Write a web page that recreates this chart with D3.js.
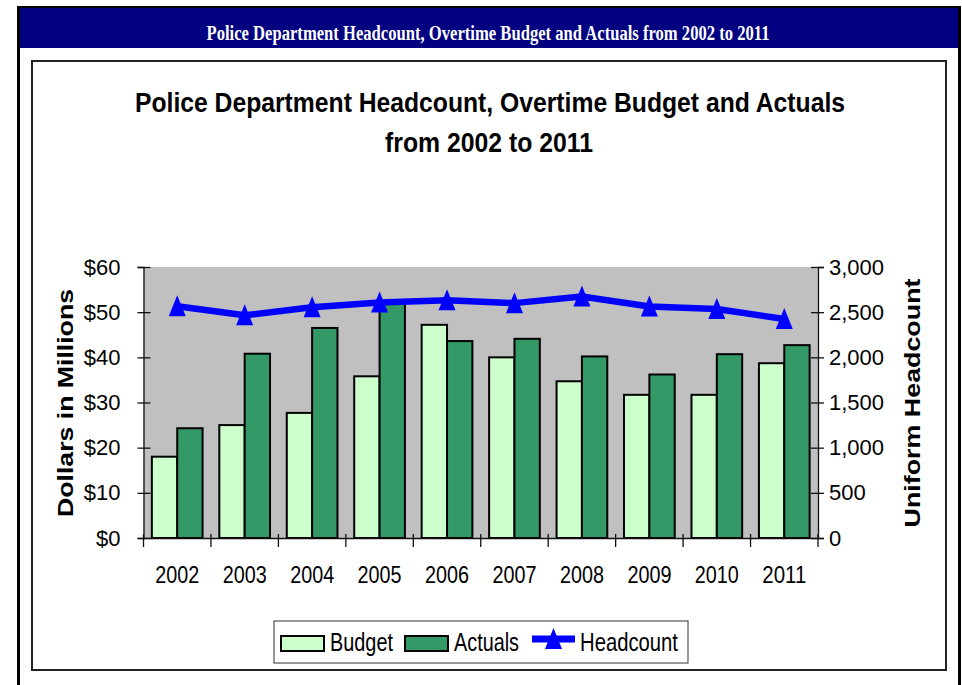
<!DOCTYPE html>
<html>
<head>
<meta charset="utf-8">
<script src="https://cdn.jsdelivr.net/npm/d3@7"></script>
<style>
  html, body { margin: 0; padding: 0; background: #fff; }
  svg { display: block; }
  text { font-family: "Liberation Sans", Arial, sans-serif; }
</style>
</head>
<body>
<svg id="chart" width="962" height="685"></svg>
<script>
// Overtime budget vs. actuals (millions of dollars) and uniform headcount
const years      = ["2002", "2003", "2004", "2005", "2006", "2007", "2008", "2009", "2010", "2011"];
const budget     = [18.0, 25.0, 27.7, 35.8, 47.2, 40.0, 34.7, 31.7, 31.7, 38.7];
const actuals    = [24.3, 40.8, 46.5, 52.0, 43.6, 44.1, 40.2, 36.2, 40.7, 42.7];
const headcount  = [2565, 2465, 2554, 2606, 2631, 2600, 2673, 2563, 2535, 2424];
const dollarTicks    = [0, 10, 20, 30, 40, 50, 60];
const headcountTicks = [0, 500, 1000, 1500, 2000, 2500, 3000];
const seriesNames = ["Budget", "Actuals"];

const svg = d3.select("#chart");

// ---- page frame and banner ----
svg.append("rect").attr("x", 17).attr("y", 6).attr("width", 944).attr("height", 2).attr("fill", "#000");
svg.append("rect").attr("x", 20).attr("y", 8).attr("width", 938).attr("height", 40).attr("fill", "#000080");
svg.append("rect").attr("x", 17).attr("y", 6).attr("width", 3).attr("height", 680).attr("fill", "#000");
svg.append("rect").attr("x", 958).attr("y", 6).attr("width", 3).attr("height", 680).attr("fill", "#000");
svg.append("text")
  .attr("x", 488).attr("y", 40)
  .attr("text-anchor", "middle")
  .attr("fill", "#fff")
  .style("font-family", "'Liberation Serif', 'Times New Roman', serif")
  .style("font-weight", "bold")
  .style("font-size", "20px")
  .attr("textLength", 563).attr("lengthAdjust", "spacingAndGlyphs")
  .text("Police Department Headcount, Overtime Budget and Actuals from 2002 to 2011");

// chart box
svg.append("rect")
  .attr("x", 32).attr("y", 61).attr("width", 914).attr("height", 609)
  .attr("fill", "#fff").attr("stroke", "#222").attr("stroke-width", 2);

// ---- title ----
const title = svg.append("g").style("font-weight", "bold").style("font-size", "27px").attr("fill", "#000");
title.append("text").attr("x", 490).attr("y", 112).attr("text-anchor", "middle")
  .attr("textLength", 710).attr("lengthAdjust", "spacingAndGlyphs")
  .text("Police Department Headcount, Overtime Budget and Actuals");
title.append("text").attr("x", 489).attr("y", 152).attr("text-anchor", "middle")
  .attr("textLength", 208).attr("lengthAdjust", "spacingAndGlyphs")
  .text("from 2002 to 2011");

// ---- plot area ----
const plot = { left: 143.5, right: 818, top: 267, bottom: 538 };

const x = d3.scaleBand().domain(years).range([plot.left, plot.right]).padding(0);
const xSub = d3.scaleBand().domain(seriesNames).range([0, x.bandwidth()])
  .paddingInner(0).paddingOuter(0.33);
const yL = d3.scaleLinear().domain([0, 60]).range([plot.bottom, plot.top]);
const yR = d3.scaleLinear().domain([0, 3000]).range([plot.bottom, plot.top]);

svg.append("rect")
  .attr("x", plot.left).attr("y", plot.top)
  .attr("width", plot.right - plot.left).attr("height", plot.bottom - plot.top)
  .attr("fill", "#c0c0c0");

// bars
const colors = { Budget: "#ccffcc", Actuals: "#339966" };
const rows = years.map((yr, i) => ({ year: yr, Budget: budget[i], Actuals: actuals[i] }));
const groups = svg.append("g").selectAll("g").data(rows).join("g")
  .attr("transform", d => `translate(${x(d.year)},0)`);
groups.selectAll("rect")
  .data(d => seriesNames.map(k => ({ key: k, value: d[k] })))
  .join("rect")
  .attr("x", d => xSub(d.key))
  .attr("y", d => yL(d.value))
  .attr("width", xSub.bandwidth())
  .attr("height", d => yL(0) - yL(d.value))
  .attr("fill", d => colors[d.key])
  .attr("stroke", "#000")
  .attr("stroke-width", 2);

// axes
const axisColor = "#111";
const leftAxis = svg.append("g").attr("transform", `translate(${plot.left},0)`)
  .call(d3.axisLeft(yL).tickValues(dollarTicks).tickSize(6).tickPadding(17).tickFormat(d => "$" + d));
leftAxis.selectAll(".tick line").attr("x1", 7);
const rightAxis = svg.append("g").attr("transform", `translate(${plot.right},0)`)
  .call(d3.axisRight(yR).tickValues(headcountTicks).tickSize(6).tickPadding(5).tickFormat(d3.format(",")));
rightAxis.selectAll(".tick line").attr("x1", -7);
const bottomAxis = svg.append("g").attr("transform", `translate(0,${plot.bottom})`)
  .call(d3.axisBottom(x).tickSize(0).tickPadding(28));
bottomAxis.selectAll(".tick text").attr("textLength", 44).attr("lengthAdjust", "spacingAndGlyphs");

[leftAxis, rightAxis, bottomAxis].forEach(a => {
  a.select(".domain").attr("stroke", axisColor).attr("stroke-width", 1.3);
  a.selectAll(".tick line").attr("stroke", axisColor).attr("stroke-width", 1.3);
  a.selectAll(".tick text").attr("fill", "#000").style("font-size", "22px")
    .style("font-family", "'Liberation Sans', Arial, sans-serif");
});
bottomAxis.selectAll(".tick text").style("font-size", "24px");

// category boundary ticks on the bottom axis
svg.append("g").selectAll("line")
  .data(d3.range(years.length + 1))
  .join("line")
  .attr("x1", i => plot.left + i * x.step())
  .attr("x2", i => plot.left + i * x.step())
  .attr("y1", plot.bottom - 4).attr("y2", plot.bottom + 9)
  .attr("stroke", axisColor).attr("stroke-width", 1.3);

// headcount line with triangle markers
const lineColor = "#0000ff";
const cx = i => x(years[i]) + x.bandwidth() / 2;
svg.append("path")
  .datum(headcount)
  .attr("fill", "none")
  .attr("stroke", lineColor)
  .attr("stroke-width", 6.5)
  .attr("stroke-linejoin", "round")
  .attr("d", d3.line().x((d, i) => cx(i)).y(d => yR(d)));
const tri = (px, py) => `M${px},${py - 11}L${px + 8.5},${py + 10}L${px - 8.5},${py + 10}Z`;
svg.append("g").selectAll("path")
  .data(headcount)
  .join("path")
  .attr("d", (d, i) => tri(cx(i), yR(d)))
  .attr("fill", lineColor);

// axis titles
svg.append("text")
  .attr("transform", "translate(73,403) rotate(-90)")
  .attr("text-anchor", "middle")
  .style("font-weight", "bold").style("font-size", "22px")
  .attr("textLength", 228).attr("lengthAdjust", "spacingAndGlyphs")
  .text("Dollars in Millions");
svg.append("text")
  .attr("transform", "translate(920,403) rotate(-90)")
  .attr("text-anchor", "middle")
  .style("font-weight", "bold").style("font-size", "22px")
  .attr("textLength", 249).attr("lengthAdjust", "spacingAndGlyphs")
  .text("Uniform Headcount");

// ---- legend ----
const legend = svg.append("g");
legend.append("rect")
  .attr("x", 274).attr("y", 621).attr("width", 414).attr("height", 42)
  .attr("fill", "#fff").attr("stroke", "#333").attr("stroke-width", 1);
const legendItems = [
  { key: "Budget", sx: 281, tx: 330, tw: 63 },
  { key: "Actuals", sx: 405, tx: 454, tw: 65 }
];
legendItems.forEach(it => {
  legend.append("rect")
    .attr("x", it.sx).attr("y", 636).attr("width", 43).attr("height", 15)
    .attr("fill", colors[it.key]).attr("stroke", "#000").attr("stroke-width", 2);
  legend.append("text").attr("x", it.tx).attr("y", 651)
    .style("font-size", "25px")
    .attr("textLength", it.tw).attr("lengthAdjust", "spacingAndGlyphs")
    .text(it.key);
});
legend.append("line")
  .attr("x1", 532).attr("x2", 575).attr("y1", 639).attr("y2", 639)
  .attr("stroke", lineColor).attr("stroke-width", 7);
legend.append("path").attr("d", tri(553.5, 639)).attr("fill", lineColor);
legend.append("text").attr("x", 580).attr("y", 651)
  .style("font-size", "25px")
  .attr("textLength", 98).attr("lengthAdjust", "spacingAndGlyphs")
  .text("Headcount");
</script>
</body>
</html>
